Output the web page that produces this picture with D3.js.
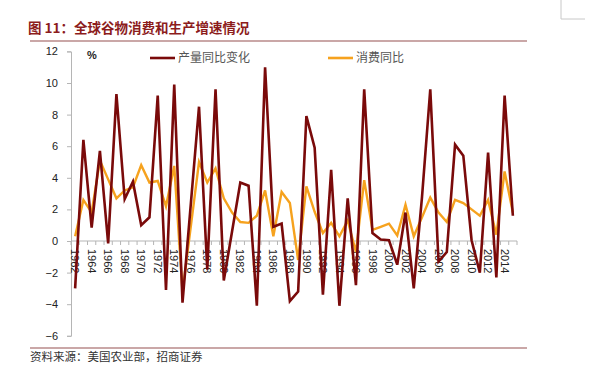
<!DOCTYPE html>
<html>
<head>
<meta charset="utf-8">
<script src="https://d3js.org/d3.v7.min.js"></script>
<style>
  body { margin: 0; background: #fff; }
  text { font-family: "Liberation Sans", Arial, sans-serif; }
  .cjk { font-family: "Noto Sans CJK SC", sans-serif; }
  .axis path, .axis line { stroke: #b5b5b5; }
  .axis text { font-size: 11px; fill: #222; }
</style>
</head>
<body>
<div id="chart"></div>
<script>
  // years, 1962 - 2015
  const years = d3.range(1962, 2016).map(String);

  // 产量同比变化 (%)
  const production = [
    -3.0, 6.4, 0.85, 5.7, -0.15, 9.3, 2.65, 3.75, 1.0, 1.5,
    9.2, -3.1, 9.9, -3.9, 2.3, 8.5, -1.8, 9.6, -2.5, 0.6,
    3.7, 3.5, -4.1, 11.0, 0.9, 1.1, -3.8, -3.2, 7.9, 5.9,
    -3.4, 4.5, -4.1, 2.7, -2.8, 9.6, 0.5, 0.1, 0.05, -1.5,
    1.8, -3.0, 2.8, 9.6, -1.3, -0.7, 6.1, 5.4, 0.05, -2.0,
    5.6, -2.3, 9.2, 1.6
  ];

  // 消费同比 (%)
  const consumption = [
    0.3, 2.6, 1.8, 5.1, 3.9, 2.7, 3.2, 3.4, 4.8, 3.7,
    3.8, 2.2, 4.75, -3.2, 0.9, 5.0, 3.7, 4.6, 2.7, 1.8,
    1.2, 1.15, 1.6, 3.2, 0.3, 3.1, 2.4, -1.2, 3.45, 1.85,
    0.5, 1.15, 0.3, 1.3, -0.7, 3.85, 0.7, 0.9, 1.1, 0.35,
    2.3, 0.3, 1.5, 2.75, 1.8, 1.2, 2.6, 2.4, 2.0, 1.6,
    2.6, 0.4, 4.4, 1.8
  ];

  const yTicks = [-6, -4, -2, 0, 2, 4, 6, 8, 10, 12];
  const seriesNames = ["产量同比变化", "消费同比"];
  const colors = ["#7a0a0a", "#f6a21e"];

  const W = 605, H = 369;
  const svg = d3.select("#chart").append("svg")
    .attr("width", W).attr("height", H);

  // decoration box top right (scan artefact)
  svg.append("path")
    .attr("d", "M561,0 V19 H585")
    .attr("fill", "none").attr("stroke", "#c8c8c8").attr("stroke-width", 1);

  // title
  svg.append("text")
    .attr("class", "cjk")
    .attr("x", 28).attr("y", 33)
    .attr("font-size", 13.5).attr("font-weight", "bold")
    .attr("fill", "#8c1c1c")
    .text("图 11：全球谷物消费和生产增速情况");

  svg.append("line")
    .attr("x1", 30).attr("x2", 527).attr("y1", 41).attr("y2", 41)
    .attr("stroke", "#b98a8a").attr("stroke-width", 1.5);
  svg.append("line")
    .attr("x1", 30).attr("x2", 527).attr("y1", 348).attr("y2", 348)
    .attr("stroke", "#b98a8a").attr("stroke-width", 1.5);

  // footer
  svg.append("text")
    .attr("class", "cjk")
    .attr("x", 30).attr("y", 361)
    .attr("font-size", 11.5).attr("fill", "#333")
    .text("资料来源：美国农业部，招商证券");

  // scales
  const x = d3.scaleBand().domain(years).range([71, 517]).padding(0);
  const y = d3.scaleLinear().domain([-6, 12]).range([335.8, 51.4]);
  const cx = d => x(d) + x.bandwidth() / 2;

  // y axis
  svg.append("g")
    .attr("class", "axis")
    .attr("transform", "translate(71,0)")
    .call(d3.axisLeft(y).tickValues(yTicks).tickSize(4).tickPadding(9))
    .call(g => g.selectAll("text").attr("font-size", 11.5));

  // x axis (labels at category centres, ticks at category boundaries)
  const xAxis = svg.append("g")
    .attr("class", "axis")
    .attr("transform", `translate(0,${y(0)})`);
  xAxis.append("line")
    .attr("x1", x.range()[0]).attr("x2", x.range()[1])
    .attr("stroke", "#b5b5b5");
  xAxis.selectAll(".tk")
    .data(years.concat(["end"]))
    .join("line")
      .attr("class", "tk")
      .attr("x1", (d, i) => i < years.length ? x(d) : x.range()[1])
      .attr("x2", (d, i) => i < years.length ? x(d) : x.range()[1])
      .attr("y1", 0).attr("y2", 4)
      .attr("stroke", "#b5b5b5");
  xAxis.selectAll(".lbl")
    .data(years.filter((d, i) => i % 2 === 0))
    .join("text")
      .attr("class", "lbl")
      .attr("transform", d => `translate(${cx(d)},8) rotate(90)`)
      .attr("dy", "0.35em")
      .attr("text-anchor", "start")
      .attr("font-size", 11)
      .attr("fill", "#222")
      .text(d => d);

  // "%" label
  svg.append("text")
    .attr("x", 87).attr("y", 59)
    .attr("font-size", 11).attr("font-weight", "bold").attr("fill", "#222")
    .text("%");

  // lines
  const line = d3.line()
    .x((d, i) => cx(years[i]))
    .y(d => y(d));

  svg.append("path")
    .datum(consumption)
    .attr("fill", "none")
    .attr("stroke", colors[1])
    .attr("stroke-width", 2.4)
    .attr("stroke-linejoin", "miter")
    .attr("d", line);

  svg.append("path")
    .datum(production)
    .attr("fill", "none")
    .attr("stroke", colors[0])
    .attr("stroke-width", 2.6)
    .attr("stroke-linejoin", "miter")
    .attr("d", line);

  // legend
  const legendX = [150, 328];
  const legend = svg.selectAll(".legend")
    .data(seriesNames)
    .join("g")
      .attr("class", "legend")
      .attr("transform", (d, i) => `translate(${legendX[i]},58)`);
  legend.append("line")
    .attr("x1", 0).attr("x2", 25)
    .attr("stroke", (d, i) => colors[i]).attr("stroke-width", 2.6);
  legend.append("text")
    .attr("class", "cjk")
    .attr("x", 28).attr("dy", "0.35em")
    .attr("font-size", 12).attr("fill", "#555")
    .text(d => d);
</script>
</body>
</html>
